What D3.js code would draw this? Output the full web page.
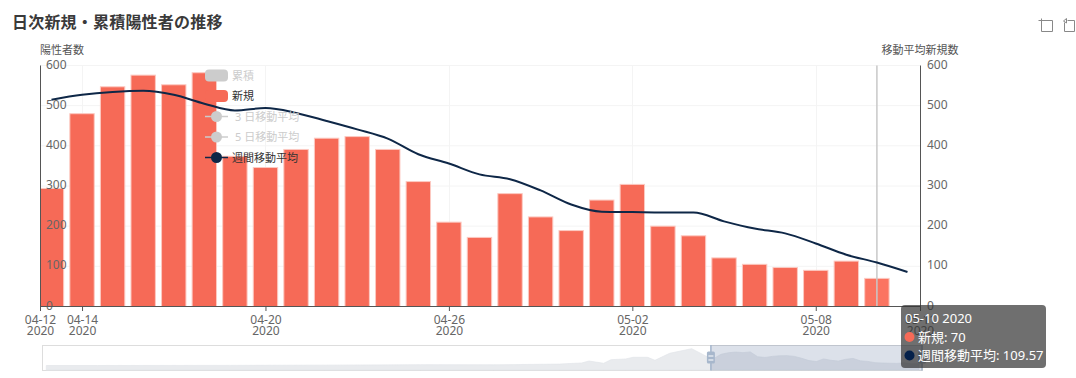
<!DOCTYPE html>
<html lang="ja">
<head>
<meta charset="utf-8">
<script src="https://cdn.jsdelivr.net/npm/d3@7/dist/d3.min.js"></script>
<style>
html,body{margin:0;padding:0;background:#fff}
svg{display:block}
text{font-family:"Noto Sans","Noto Sans CJK JP",sans-serif}
</style>
</head>
<body>
<svg id="c" width="1076" height="378"></svg>
<script>
const titleText = "日次新規・累積陽性者の推移";
const leftAxisName = "陽性者数";
const rightAxisName = "移動平均新規数";
const startDate = "2020-04-13";
const newCases = [294,480,547,576,552,582,374,346,391,419,423,391,311,210,172,281,223,189,265,304,200,176,121,105,97,90,113,70];
const weeklyAverage = [515,527,534,537,527,505,488,494,482,462,441,418,379,356,329,317,289,254,236,235,234,234,212,194,182,157,129,109.57,86];
const yTicks = [0,100,200,300,400,500,600];
const xTickDates = ["2020-04-12T15:00Z","2020-04-14T00:00Z","2020-04-20T00:00Z","2020-04-26T00:00Z","2020-05-02T00:00Z","2020-05-08T00:00Z","2020-05-11T09:50Z"];
const legendNames = ["累積","新規","3 日移動平均","5 日移動平均","週間移動平均"];
const legendKinds = ["bar","bar","line","line","line"];
const legendActive = [false,true,false,false,true];
const overviewDates = ["2020-01-13","2020-01-20","2020-02-07","2020-02-20","2020-03-04","2020-03-14","2020-03-23","2020-03-24","2020-03-26","2020-03-27","2020-03-29","2020-03-30","2020-04-01","2020-04-02","2020-04-04","2020-04-05","2020-04-07","2020-04-10","2020-04-12"];
const overviewValues = [0,0,5,15,34,30,60,80,107,193,94,250,279,352,352,223,523,721,395];

const RED="#f66a57", NAVY="#0e2747", GREY="#ccc";
const svg=d3.select("#c");
const parse=s=>new Date(s.length===10?s+"T00:00:00Z":s);
const addDays=(d,n)=>new Date(d.getTime()+n*864e5);
const barDates=newCases.map((_,i)=>addDays(parse(startDate),i));
const lineDates=weeklyAverage.map((_,i)=>addDays(parse(startDate),i));

const plot={l:40,r:920,t:65.5,b:306.5};
const x=d3.scaleUtc().domain([parse(xTickDates[0]),parse(xTickDates[xTickDates.length-1])]).range([plot.l,plot.r]);
const y=d3.scaleLinear().domain([0,600]).range([plot.b,plot.t]);
const fmtMD=d3.utcFormat("%m-%d"), fmtY=d3.utcFormat("%Y");

svg.append("defs").append("clipPath").attr("id","pc").append("rect")
  .attr("x",plot.l).attr("y",0).attr("width",plot.r-plot.l).attr("height",plot.b);

// title
svg.append("text").attr("x",12).attr("y",28).attr("font-size",16).attr("font-weight",700).attr("letter-spacing",0.2).attr("fill","#3a3a3a").text(titleText);

// grid
const gridG=svg.append("g").attr("stroke","#f4f4f4").attr("stroke-width",1);
gridG.selectAll("line.h").data(yTicks.slice(1)).join("line").attr("class","h")
  .attr("x1",plot.l).attr("x2",plot.r).attr("y1",d=>y(d)).attr("y2",d=>y(d));
gridG.selectAll("line.v").data(xTickDates.slice(1,-1).map(parse)).join("line").attr("class","v")
  .attr("x1",d=>Math.round(x(d))+.5).attr("x2",d=>Math.round(x(d))+.5).attr("y1",plot.t).attr("y2",plot.b);

// bars
const bw=24.4;
const hoverDate=barDates[barDates.length-1];
svg.append("g").attr("clip-path","url(#pc)").selectAll("rect").data(newCases).join("rect")
  .attr("x",(d,i)=>x(barDates[i])-bw/2).attr("width",bw)
  .attr("y",d=>y(d)).attr("height",d=>y(0)-y(d))
  .attr("fill",(d,i)=>i===newCases.length-1?"#fb7461":RED)
  .attr("stroke","#fcc9c1").attr("stroke-width",1);

// cursor line
svg.append("line").attr("x1",x(hoverDate)).attr("x2",x(hoverDate)).attr("y1",plot.t).attr("y2",plot.b)
  .attr("stroke","#c8c8c8").attr("stroke-width",1.5);

// line
const lineGen=d3.line().x((d,i)=>x(lineDates[i])).y(d=>y(d)).curve(d3.curveMonotoneX);
svg.append("path").datum(weeklyAverage).attr("d",lineGen).attr("fill","none").attr("stroke",NAVY).attr("stroke-width",2);

// axes
function styleAxis(g){
  g.selectAll("text").attr("fill","#666").attr("font-size",12);
  g.selectAll("path.domain,line").attr("stroke","#555");
}
const leftAx=svg.append("g").attr("transform",`translate(${plot.l},-0.5)`)
  .call(d3.axisRight(y).tickValues(yTicks).tickSize(0).tickPadding(6).tickSizeOuter(0)).call(styleAxis);
leftAx.selectAll("text").attr("dy","0.25em");
const rightAx=svg.append("g").attr("transform",`translate(${plot.r},-0.5)`)
  .call(d3.axisRight(y).tickValues(yTicks).tickSize(0).tickPadding(7).tickSizeOuter(0)).call(styleAxis);
rightAx.selectAll("text").attr("dy","0.25em");
const bottomAx=svg.append("g").attr("transform",`translate(0,${plot.b-.5})`)
  .call(d3.axisBottom(x).tickValues(xTickDates.map(parse)).tickSize(5).tickSizeOuter(0).tickPadding(4).tickFormat(fmtMD)).call(styleAxis);
bottomAx.selectAll(".tick").each(function(d){
  const t=d3.select(this).select("text");
  t.append("tspan").attr("x",0).attr("dy","11px").text(fmtY(d));
});

// axis names
svg.append("text").attr("x",40).attr("y",53.5).attr("font-size",11).attr("fill","#555").text(leftAxisName);
svg.append("text").attr("x",920).attr("y",53.5).attr("text-anchor","middle").attr("font-size",11).attr("fill","#555").text(rightAxisName);

// legend
const legendY=d3.scalePoint().domain(legendNames).range([75.5,157.5]);
const lg=svg.append("g").selectAll("g").data(legendNames).join("g")
  .attr("transform",d=>`translate(205,${legendY(d)})`);
lg.each(function(name,i){
  const g=d3.select(this), on=legendActive[i];
  const col=on?(legendKinds[i]==="bar"?RED:NAVY):GREY;
  if(legendKinds[i]==="bar"){
    g.append("rect").attr("x",0).attr("y",-6).attr("width",23).attr("height",12).attr("rx",4).attr("fill",col);
  }else{
    g.append("line").attr("x1",0).attr("x2",23).attr("y1",0).attr("y2",0).attr("stroke",col).attr("stroke-width",1.5);
    g.append("circle").attr("cx",11.5).attr("cy",0).attr("r",5.5).attr("fill",col);
  }
  g.append("text").attr("x",/^\d/.test(name)?30:27).attr("y",4).attr("font-size",11)
    .attr("fill",on?"#333":"#ccc").text(name);
});

// toolbox
const tb=svg.append("g").attr("fill","none").attr("stroke","#888").attr("stroke-width",1);
tb.append("path").attr("d",d3.line()([[1038.5,20.5],[1052.5,20.5],[1052.5,31.5],[1041.5,31.5],[1041.5,18.5]]));
tb.append("path").attr("d",d3.line()([[1067.5,20.5],[1074.5,20.5],[1074.5,31.5],[1064.5,31.5],[1064.5,22.5]]));
tb.append("path").attr("d",d3.line()([[1066.5,18.5],[1063.5,21],[1066.5,23],[1066.5,18.5]]));

// data zoom
const sl={l:42,r:922,t:345,b:370.5};
const sx=d3.scaleUtc().domain([new Date("2020-01-12T10:00:00Z"),x.domain()[1]]).range([sl.l,sl.r]);
const sy=d3.scaleLinear().domain([0,d3.max(overviewValues)]).range([365.5,348.7]);
const ovData=overviewDates.map((d,i)=>[parse(d),overviewValues[i]]).concat(newCases.map((v,i)=>[barDates[i],v]));
ovData.push([lineDates[lineDates.length-1],newCases[newCases.length-1]]);
svg.append("rect").attr("x",sl.l+.5).attr("y",sl.t+.5).attr("width",sl.r-sl.l).attr("height",sl.b-sl.t-.5)
  .attr("fill","#fff").attr("stroke","#ddd");
svg.append("path").datum(ovData).attr("fill","#e9ebee").attr("stroke","#e2e5e9").attr("stroke-width",.7)
  .attr("d",d3.area().x(d=>sx(d[0])).y0(sl.b-.5).y1(d=>sy(d[1])));
const sx0=sx(x.domain()[0]), sx1=sx(x.domain()[1]);
svg.append("rect").attr("x",sx0).attr("y",sl.t).attr("width",sx1-sx0).attr("height",sl.b-sl.t)
  .attr("fill","rgba(60,90,140,0.18)");
[sx0,sx1].forEach(h=>{
  svg.append("line").attr("x1",h).attr("x2",h).attr("y1",sl.t).attr("y2",sl.b).attr("stroke","#a3b4cb").attr("stroke-width",1.5);
  svg.append("rect").attr("x",h-4).attr("y",351.5).attr("width",8).attr("height",12).attr("rx",1.5).attr("fill","#a7b7cc");
  [355.5,359.5].forEach(yy=>svg.append("rect").attr("x",h-2.5).attr("y",yy).attr("width",5).attr("height",1).attr("fill","#fff"));
});

// tooltip
const hi=newCases.length-1;
const tip=svg.append("g");
tip.append("rect").attr("x",901).attr("y",305).attr("width",145).attr("height",63).attr("rx",4).attr("fill","rgba(50,50,50,0.7)");
tip.append("text").attr("x",905).attr("y",323).attr("font-size",13).attr("fill","#fff")
  .text(fmtMD(barDates[hi])+" "+fmtY(barDates[hi]));
[[legendNames[1],newCases[hi],RED,337],[legendNames[4],weeklyAverage[hi],"#04204a",355.5]].forEach(r=>{
  tip.append("circle").attr("cx",909.5).attr("cy",r[3]).attr("r",5).attr("fill",r[2]);
  tip.append("text").attr("x",918).attr("y",r[3]+4.5).attr("font-size",13).attr("fill","#fff").text(r[0]+": "+r[1]);
});
</script>
</body>
</html>
